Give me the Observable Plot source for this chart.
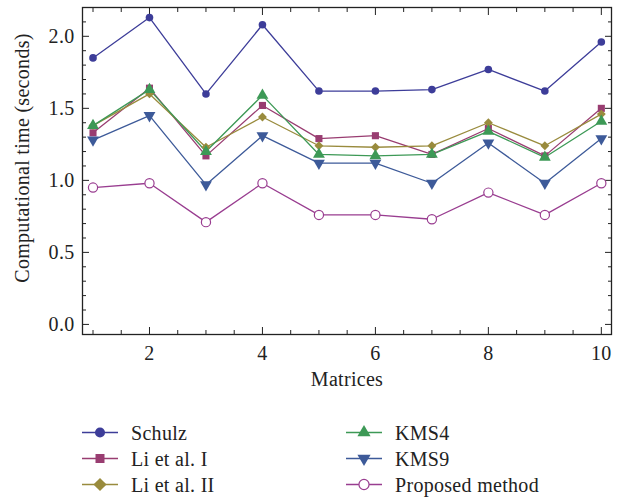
<!DOCTYPE html>
<html>
<head>
<meta charset="utf-8">
<script src="https://cdn.jsdelivr.net/npm/d3@7"></script>
<script src="https://cdn.jsdelivr.net/npm/@observablehq/plot@0.6"></script>
<style>
  html, body { margin: 0; padding: 0; background: #fff; }
  #chart { width: 621px; }
  svg { display: block; }
</style>
</head>
<body>
<div id="chart"></div>
<script>
// ---- data ----
const matrices = [1, 2, 3, 4, 5, 6, 7, 8, 9, 10];
const seriesNames = ["Schulz", "Li et al. I", "Li et al. II", "KMS4", "KMS9", "Proposed method"];
const seriesColors = ["#3d3d99", "#993d71", "#998b3d", "#3d9956", "#3d5a99", "#993d90"];
const schulz   = [1.85, 2.13, 1.60, 2.08, 1.62, 1.62, 1.63, 1.77, 1.62, 1.96];
const liI      = [1.33, 1.64, 1.17, 1.52, 1.29, 1.31, 1.18, 1.36, 1.17, 1.50];
const liII     = [1.38, 1.60, 1.23, 1.44, 1.24, 1.23, 1.24, 1.40, 1.24, 1.46];
const kms4     = [1.38, 1.63, 1.20, 1.59, 1.18, 1.17, 1.18, 1.34, 1.16, 1.41];
const kms9     = [1.28, 1.45, 0.97, 1.31, 1.12, 1.12, 0.98, 1.26, 0.98, 1.29];
const proposed = [0.95, 0.98, 0.71, 0.98, 0.76, 0.76, 0.73, 0.915, 0.76, 0.98];
const seriesValues = [schulz, liI, liII, kms4, kms9, proposed];

const xMajorTicks = [2, 4, 6, 8, 10];
const xMinorTicks = [1, 1.5, 2.5, 3, 3.5, 4.5, 5, 5.5, 6.5, 7, 7.5, 8.5, 9, 9.5];
const yMajorTicks = [0, 0.5, 1.0, 1.5, 2.0];
const yMinorTicks = [0.1, 0.2, 0.3, 0.4, 0.6, 0.7, 0.8, 0.9, 1.1, 1.2, 1.3, 1.4, 1.6, 1.7, 1.8, 1.9, 2.1, 2.2];
const xLabel = "Matrices";
const yLabel = "Computational time (seconds)";

// ---- table ----
const rows = seriesNames.flatMap((name, i) =>
  matrices.map((m, j) => ({series: name, matrix: m, time: seriesValues[i][j]})));

const triangleDown = {
  draw(context, size) {
    const y = -Math.sqrt(size / (Math.sqrt(3) * 3));
    context.moveTo(0, -y * 2);
    context.lineTo(-Math.sqrt(3) * y, y);
    context.lineTo(Math.sqrt(3) * y, y);
    context.closePath();
  }
};
const symbols = ["circle", "square", "diamond2", "triangle", triangleDown, "circle"];
const radii = [3.8, 4.0, 4.0, 4.4, 4.4, 4.6];

const frameColor = "#222";
const noText = () => "";

const dotMarks = seriesNames.map((name, i) => {
  const open = i === 5;
  return Plot.dot(rows.filter(d => d.series === name), {
    x: "matrix", y: "time",
    symbol: symbols[i], r: radii[i],
    fill: open ? "white" : seriesColors[i],
    stroke: open ? seriesColors[i] : "none",
    strokeWidth: open ? 1.2 : 0
  });
});

const chart = Plot.plot({
  width: 621,
  height: 400,
  marginLeft: 82,
  marginRight: 10,
  marginTop: 7,
  marginBottom: 66,
  style: {fontFamily: "'Liberation Serif', serif", fontSize: "20px", color: "#222", background: "white", letterSpacing: "0.3px"},
  x: {domain: [0.814, 10.18]},
  y: {domain: [-0.07, 2.2]},
  color: {domain: seriesNames, range: seriesColors},
  marks: [
    // tick labels
    Plot.axisX(xMajorTicks, {anchor: "bottom", tickSize: 0, tickPadding: 11, label: null}),
    Plot.axisY(yMajorTicks, {anchor: "left", tickSize: 0, tickPadding: 8, label: null, tickFormat: d3.format(".1f")}),
    // inward ticks on all four sides
    Plot.axisX(xMajorTicks, {anchor: "bottom", tickSize: -7, tickFormat: noText, label: null, stroke: frameColor}),
    Plot.axisX(xMinorTicks, {anchor: "bottom", tickSize: -4, tickFormat: noText, label: null, stroke: frameColor}),
    Plot.axisX(xMajorTicks, {anchor: "top", tickSize: -7, tickFormat: noText, label: null, stroke: frameColor}),
    Plot.axisX(xMinorTicks, {anchor: "top", tickSize: -4, tickFormat: noText, label: null, stroke: frameColor}),
    Plot.axisY(yMajorTicks, {anchor: "left", tickSize: -7, tickFormat: noText, label: null, stroke: frameColor}),
    Plot.axisY(yMinorTicks, {anchor: "left", tickSize: -4, tickFormat: noText, label: null, stroke: frameColor}),
    Plot.axisY(yMajorTicks, {anchor: "right", tickSize: -7, tickFormat: noText, label: null, stroke: frameColor}),
    Plot.axisY(yMinorTicks, {anchor: "right", tickSize: -4, tickFormat: noText, label: null, stroke: frameColor}),
    Plot.frame({stroke: frameColor, strokeWidth: 1.3}),
    // axis titles
    Plot.text([xLabel], {frameAnchor: "bottom", dy: 51, fill: "#222"}),
    Plot.text([yLabel], {frameAnchor: "left", textAnchor: "middle", lineAnchor: "middle", rotate: -90, dx: -60, dy: -13, fill: "#222"}),
    // series
    Plot.line(rows, {x: "matrix", y: "time", z: "series", stroke: "series", strokeWidth: 1.3}),
    ...dotMarks
  ]
});
document.getElementById("chart").appendChild(chart);

// ---- legend below the plot ----
const legend = d3.create("svg").attr("width", 621).attr("height", 98)
  .style("font-family", "'Liberation Serif', serif").style("font-size", "20px").style("letter-spacing", "0.3px");
const legendSizes = [80, 81, 110, 75, 75, 80];
seriesNames.forEach((name, i) => {
  const col = i < 3 ? 0 : 1;
  const row = i % 3;
  const x0 = col === 0 ? 82 : 346;
  const cy = 32.5 + row * 26;
  const g = legend.append("g").attr("transform", `translate(${x0},${cy})`);
  g.append("line").attr("x1", 0).attr("x2", 36).attr("y1", 0).attr("y2", 0)
    .attr("stroke", seriesColors[i]).attr("stroke-width", 1.3);
  const sym = typeof symbols[i] === "string"
    ? {circle: d3.symbolCircle, square: d3.symbolSquare, diamond2: d3.symbolDiamond2, triangle: d3.symbolTriangle}[symbols[i]]
    : symbols[i];
  const open = i === 5;
  g.append("path").attr("transform", "translate(18,0)")
    .attr("d", d3.symbol(sym, legendSizes[i])())
    .attr("fill", open ? "white" : seriesColors[i])
    .attr("stroke", open ? seriesColors[i] : "none")
    .attr("stroke-width", open ? 1.2 : 0);
  g.append("text").attr("x", 49).attr("y", 0).attr("dy", "0.35em").attr("fill", "#222").text(name);
});
document.getElementById("chart").appendChild(legend.node());
</script>
</body>
</html>
